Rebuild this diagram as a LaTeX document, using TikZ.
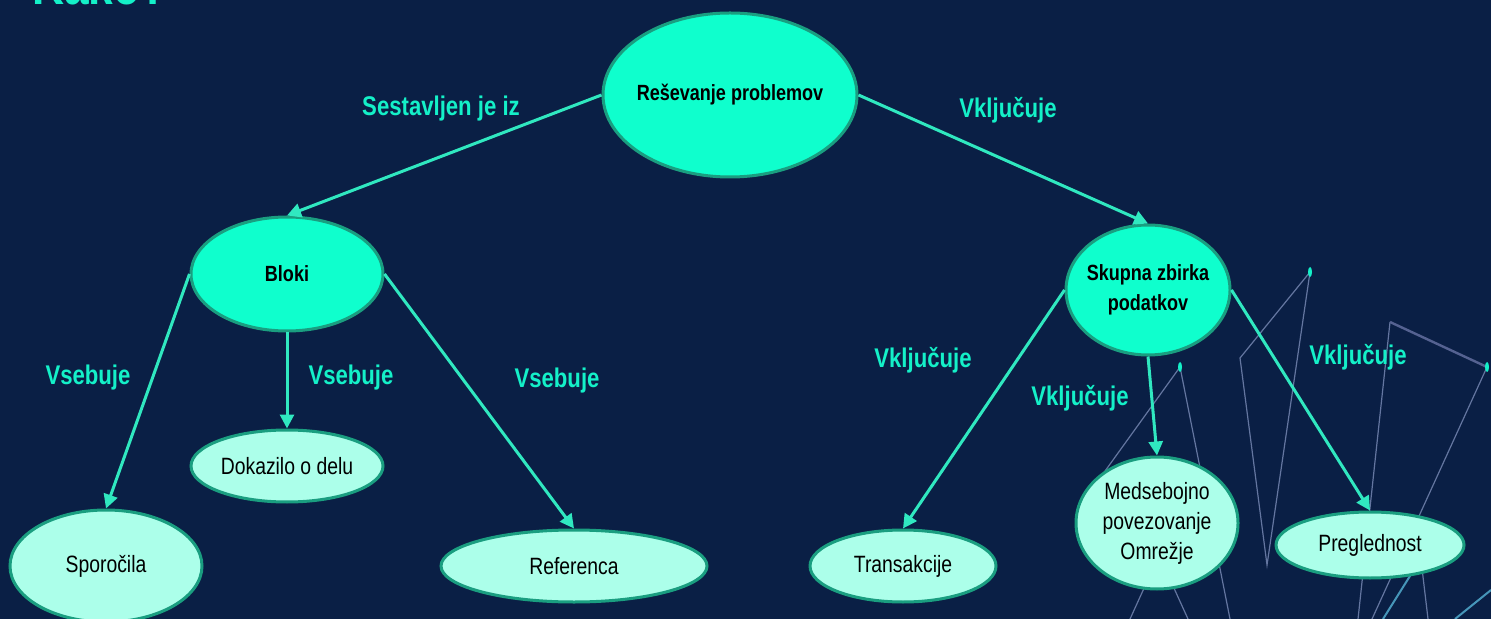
\documentclass[tikz,border=0pt]{standalone}
\usepackage{fontspec}
\setmainfont{Liberation Sans}[FakeStretch=0.82]
\usetikzlibrary{shapes.geometric,arrows.meta}
\definecolor{navy}{RGB}{10,31,69}
\definecolor{aqua}{RGB}{15,255,205}
\definecolor{mint}{RGB}{172,255,234}
\definecolor{rim}{RGB}{26,158,128}
\definecolor{wire}{RGB}{48,232,192}
\definecolor{tag}{RGB}{20,240,200}
\definecolor{deco}{RGB}{100,118,160}
\definecolor{decob}{RGB}{70,150,185}
\definecolor{decoc}{RGB}{85,98,145}
\begin{document}
\begin{tikzpicture}[x=0.5pt,y=-0.5pt]
    \tikzstyle{hub}=[ellipse,draw=rim,line width=1.5pt,fill=aqua,inner sep=-3pt,align=center,font=\bfseries\fontsize{11}{15}\selectfont]
    \tikzstyle{leaf}=[hub,fill=mint,font=\fontsize{11.8}{15}\selectfont]
    \tikzstyle{rel}=[text=tag,font=\bfseries\fontsize{13.5}{16}\selectfont]
    \tikzstyle{link}=[draw=wire,line width=1.5pt,-{Triangle[length=7pt,width=7pt]}]
    \tikzstyle{fine}=[draw=deco,line width=0.6pt]
    \useasboundingbox(0,0)rectangle(1491,619);
    \fill[navy](0,0)rectangle(1491,619);
    \draw[fine](1310,272)--(1240,358)--(1267,565)--cycle;
    \draw[fine](1100,478)--(1180,367)--(1230,619);
    \draw[fine](1390,322)--(1358,619);
    \draw[fine,draw=decoc,line width=1.2pt](1390,322)--(1487,367);
    \draw[fine](1487,367)--(1372,619);
    \draw[fine](1150,575)--(1130,619);
    \draw[fine](1168,575)--(1188,619);
    \draw[fine](1421,560)--(1428,619);
    \draw[fine,draw=decob,line width=1pt](1420,560)--(1383,619);
    \draw[fine,draw=decob,line width=1pt](1491,590)--(1455,619);
    \fill[tag](1310,272)ellipse[x radius=1pt,y radius=2.5pt]
             (1180,367)ellipse[x radius=1pt,y radius=2.5pt]
             (1487,367)ellipse[x radius=1pt,y radius=2.5pt];
    \node[text=tag,anchor=base west,inner sep=0pt,font=\bfseries\fontsize{27}{30}\selectfont](kako)at(32,5){Kako?};
    \draw node[hub,minimum width=127pt,minimum height=82pt](root)at(730,95){Reševanje problemov}
          node[hub,minimum width=96pt,minimum height=57pt](bloki)at(287,274){Bloki}
          node[hub,minimum width=82pt,minimum height=65pt](zbirka)at(1148,290){Skupna zbirka\\podatkov}
          node[leaf,minimum width=96pt,minimum height=56pt](sporocila)at(106,566){Sporočila}
          node[leaf,minimum width=96pt,minimum height=36pt](dokazilo)at(287,466){Dokazilo o delu}
          node[leaf,minimum width=133pt,minimum height=36pt](referenca)at(574,566){Referenca}
          node[leaf,minimum width=93pt,minimum height=36pt](transakcije)at(903,566){Transakcije}
          node[leaf,minimum width=81pt,minimum height=66pt](omrezje)at(1157,523){Medsebojno\\povezovanje\\Omrežje}
          node[leaf,minimum width=94pt,minimum height=33pt](preglednost)at(1370,545){Preglednost};
    \draw node[rel](sestavljen)at(441,109){Sestavljen je iz}
          node[rel](vkA)at(1008,110){Vključuje}
          node[rel](vsA)at(88,378){Vsebuje}
          node[rel](vsB)at(351,378){Vsebuje}
          node[rel](vsC)at(557,381){Vsebuje}
          node[rel](vkB)at(923,360){Vključuje}
          node[rel](vkC)at(1080,398){Vključuje}
          node[rel](vkD)at(1358,357){Vključuje};
    \draw[link](root.west)--(bloki.north);
    \draw[link](root.east)--(zbirka.north);
    \draw[link](bloki.west)--(sporocila.north);
    \draw[link](bloki.south)--(dokazilo.north);
    \draw[link](bloki.east)--(referenca.north);
    \draw[link](zbirka.west)--(transakcije.north);
    \draw[link](zbirka.south)--(omrezje.north);
    \draw[link](zbirka.east)--(preglednost.north);
\end{tikzpicture}
\end{document}
